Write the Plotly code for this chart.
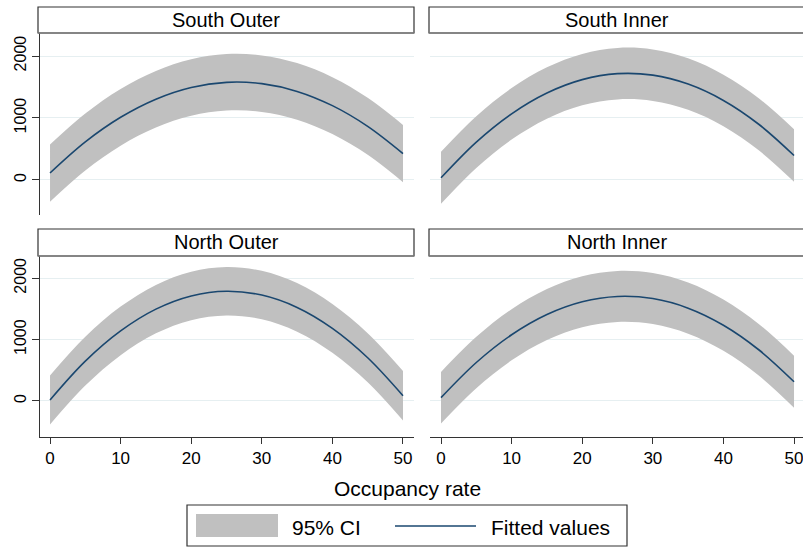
import plotly.graph_objects as go

W, H = 803, 547

# ---- data ----
occupancy = [0, 5, 10, 15, 20, 25, 30, 35, 40, 45, 50]

panels = ["South Outer", "South Inner", "North Outer", "North Inner"]

so_fit = [112, 614, 1011, 1303, 1492, 1575, 1554, 1429, 1199, 865, 426]
so_hi = [574, 1074, 1469, 1760, 1948, 2031, 2010, 1886, 1657, 1325, 888]
so_lo = [-350, 154, 553, 846, 1036, 1119, 1098, 972, 741, 405, -36]

si_fit = [35, 611, 1067, 1403, 1619, 1715, 1691, 1547, 1283, 899, 395]
si_hi = [455, 1029, 1483, 1818, 2034, 2130, 2106, 1962, 1699, 1319, 820]
si_lo = [-385, 193, 651, 988, 1204, 1300, 1276, 1132, 867, 479, -30]

no_fit = [16, 649, 1142, 1497, 1712, 1789, 1726, 1525, 1184, 705, 86]
no_hi = [416, 1047, 1538, 1892, 2107, 2184, 2121, 1921, 1582, 1105, 490]
no_lo = [-384, 251, 746, 1102, 1317, 1394, 1331, 1129, 786, 305, -318]

ni_fit = [54, 627, 1079, 1409, 1617, 1704, 1669, 1513, 1235, 835, 314]
ni_hi = [474, 1045, 1496, 1825, 2033, 2120, 2085, 1930, 1653, 1256, 739]
ni_lo = [-366, 209, 662, 993, 1201, 1288, 1253, 1096, 817, 414, -111]

x_ticks = [0, 10, 20, 30, 40, 50]
y_ticks = [0, 1000, 2000]
x_title = "Occupancy rate"
legend_labels = ["95% CI", "Fitted values"]

series = [(so_fit, so_lo, so_hi), (si_fit, si_lo, si_hi),
          (no_fit, no_lo, no_hi), (ni_fit, ni_lo, ni_hi)]

# ---- styling ----
CI_COL = "#C0C0C0"
LINE_COL = "#1A476F"
GRID_COL = "#E6EFF1"
FONT = "Liberation Sans, Arial, Helvetica, sans-serif"


def X(px):
    return px / W


def Y(py):
    return 1 - py / H


# panel geometry in pixels: (x0, x1, y_top, y_bottom)
geo = [(40, 414, 33, 215), (430, 803, 33, 215),
       (40, 414, 256, 437), (430, 803, 256, 437)]
xranges = [[-1.42, 51.56], [-1.56, 51.27], [-1.42, 51.56], [-1.56, 51.27]]
yranges = [[-565, 2371], [-565, 2371], [-587, 2363], [-587, 2363]]

fig = go.Figure()
layout = {}
for i, (fit, lo, hi) in enumerate(series):
    n = i + 1
    xa = "x" if n == 1 else f"x{n}"
    ya = "y" if n == 1 else f"y{n}"
    fig.add_trace(go.Scatter(x=occupancy, y=lo, mode="lines", xaxis=xa, yaxis=ya,
                             line=dict(width=0, color=CI_COL, shape="spline"),
                             showlegend=False, hoverinfo="skip"))
    fig.add_trace(go.Scatter(x=occupancy, y=hi, mode="lines", xaxis=xa, yaxis=ya,
                             fill="tonexty", fillcolor=CI_COL,
                             line=dict(width=0, color=CI_COL, shape="spline"),
                             name=legend_labels[0], showlegend=False))
    fig.add_trace(go.Scatter(x=occupancy, y=fit, mode="lines", xaxis=xa, yaxis=ya,
                             line=dict(width=1.6, color=LINE_COL, shape="spline"),
                             name=legend_labels[1], showlegend=False))

    x0, x1, yt, yb = geo[i]
    bottom = i >= 2
    left = i % 2 == 0
    xkey = "xaxis" if n == 1 else f"xaxis{n}"
    ykey = "yaxis" if n == 1 else f"yaxis{n}"
    layout[xkey] = dict(domain=[X(x0), X(x1)], range=xranges[i], anchor=ya,
                        showgrid=False, zeroline=False,
                        tickvals=x_ticks, showticklabels=bottom,
                        ticklabeloverflow="allow",
                        ticks="outside" if bottom else "", ticklen=6, tickwidth=1,
                        tickcolor="#333", showline=bottom, linecolor="#333",
                        linewidth=1, tickfont=dict(size=17, color="black", family=FONT))
    layout[ykey] = dict(domain=[Y(yb), Y(yt)], range=yranges[i], anchor=xa,
                        showgrid=True, gridcolor=GRID_COL, gridwidth=1,
                        zeroline=False, tickvals=y_ticks,
                        showticklabels=left, ticks="outside" if left else "",
                        ticklen=7, tickwidth=1, tickcolor="#333",
                        showline=left, linecolor="#333", linewidth=1,
                        tickangle=-90, ticklabeloverflow="allow",
                        tickfont=dict(size=16, color="black", family=FONT))

shapes = []
annotations = []
strips = [(38, 414, 7, 33), (429, 812, 7, 33), (38, 414, 229, 256), (429, 812, 229, 256)]
for (sx0, sx1, sy0, sy1), title in zip(strips, panels):
    shapes.append(dict(type="rect", xref="paper", yref="paper",
                       x0=X(sx0), x1=X(sx1), y0=Y(sy1), y1=Y(sy0),
                       line=dict(color="#333", width=1.2), fillcolor="white"))
    shapes.append(dict(type="line", xref="paper", yref="paper",
                       x0=X(sx0), x1=X(sx1), y0=Y(sy1), y1=Y(sy1),
                       line=dict(color="#7F7F7F", width=1.5)))
    cx = (sx0 + sx1) / 2 if sx1 <= W else (sx0 + 812) / 2 - 4
    annotations.append(dict(text=title, xref="paper", yref="paper",
                            x=X(cx), y=Y((sy0 + sy1) / 2), xanchor="center",
                            yanchor="middle", showarrow=False,
                            font=dict(size=20, color="black", family=FONT)))

# axis title
annotations.append(dict(text=x_title, xref="paper", yref="paper", x=X(407), y=Y(488),
                        xanchor="center", yanchor="middle", showarrow=False,
                        font=dict(size=21, color="black", family=FONT)))

# legend (drawn manually)
shapes.append(dict(type="rect", xref="paper", yref="paper", x0=X(187), x1=X(627),
                   y0=Y(546), y1=Y(505), line=dict(color="#333", width=1.2),
                   fillcolor="white"))
shapes.append(dict(type="rect", xref="paper", yref="paper", x0=X(196), x1=X(278),
                   y0=Y(537), y1=Y(514), line=dict(width=0), fillcolor=CI_COL))
shapes.append(dict(type="line", xref="paper", yref="paper", x0=X(395), x1=X(476),
                   y0=Y(526), y1=Y(526), line=dict(color=LINE_COL, width=1.6)))
annotations.append(dict(text=legend_labels[0], xref="paper", yref="paper", x=X(290),
                        y=Y(527), xanchor="left", yanchor="middle", showarrow=False,
                        font=dict(size=21, color="black", family=FONT)))
annotations.append(dict(text=legend_labels[1], xref="paper", yref="paper", x=X(489),
                        y=Y(527), xanchor="left", yanchor="middle", showarrow=False,
                        font=dict(size=21, color="black", family=FONT)))

fig.update_layout(width=W, height=H, margin=dict(l=0, r=0, t=0, b=0),
                  paper_bgcolor="white", plot_bgcolor="white",
                  showlegend=False, shapes=shapes, annotations=annotations,
                  font=dict(family=FONT, color="black"), **layout)

fig.write_html("out.html", config={"displayModeBar": False},
               post_script="document.body.style.margin='0';document.body.style.overflow='hidden';")
